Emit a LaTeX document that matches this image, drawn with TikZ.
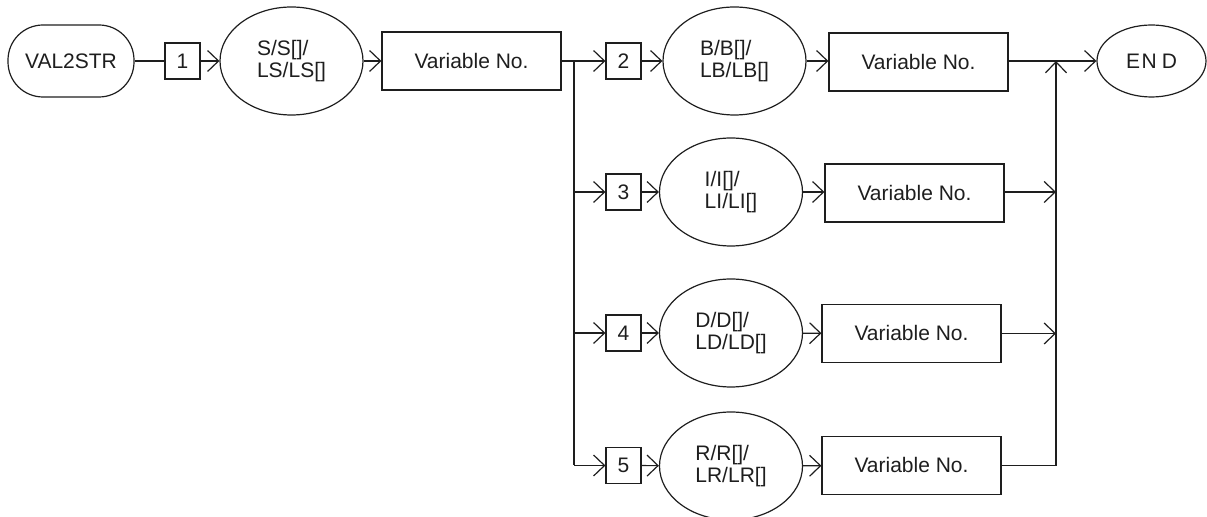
\documentclass[tikz,border=0pt]{standalone}
\usepackage{fontspec}
\setmainfont{Liberation Sans}
\usepackage{tikz}
\usetikzlibrary{shapes.geometric, arrows.meta, positioning, calc}
\definecolor{mydark}{RGB}{30,30,30}
\tikzset{
  startnode/.style={rectangle, draw=mydark, rounded corners=17.5pt,
    minimum width=63pt, minimum height=36pt, inner sep=0pt,
    font=\fontsize{10.5}{11.2}\selectfont, line width=0.6pt},
  numbox/.style={rectangle, draw=mydark,
    minimum width=17.5pt, minimum height=18pt, inner sep=0pt,
    font=\fontsize{10.5}{11.2}\selectfont, line width=0.6pt},
  typenode/.style={ellipse, draw=mydark, align=left,
    minimum width=71.5pt, minimum height=54pt, inner sep=0pt,
    font=\fontsize{10.5}{11.2}\selectfont, line width=0.6pt},
  varbox/.style={rectangle, draw=mydark,
    minimum width=89.5pt, minimum height=29pt, inner sep=0pt,
    font=\fontsize{10.5}{11.2}\selectfont, line width=0.6pt},
  endnode/.style={ellipse, draw=mydark,
    minimum width=54.5pt, minimum height=36pt, inner sep=0pt,
    font=\fontsize{10.5}{11.2}\selectfont, line width=0.6pt},
  arrow/.style={-{Straight Barb[length=5.5pt,width=10.5pt]}, line width=0.6pt, color=mydark},
  line/.style={line width=0.6pt, color=mydark}
}
\begin{document}
\begin{tikzpicture}[x=0.5pt, y=-0.5pt, text=mydark]
  \useasboundingbox (0,0) rectangle (1207,517);

  % Row 1
  \node[startnode] (start) at (71,61) {VAL2STR};
  \node[numbox] (num1) at (182.5,61) {1};
  \node[typenode] (type1) at (291.5,61) {S/S[]/\\LS/LS[]};
  \node[varbox] (var1) at (471.5,61) {Variable No.};
  \coordinate (split) at (574,61);
  \node[numbox] (num2) at (623.5,61) {2};
  \node[typenode] (type2) at (734.5,61) {B/B[]/\\LB/LB[]};
  \node[varbox] (var2) at (918.5,62) {Variable No.};
  \coordinate (join) at (1056,61);
  \node[endnode] (end) at (1151.5,61) {E\kern0.8ptN\kern2.5ptD};

  % Row 2
  \node[numbox] (num3) at (623.5,192) {3};
  \node[typenode] (type3) at (731,192) {I/I[]/\\LI/LI[]};
  \node[varbox] (var3) at (914.5,193) {Variable No.};

  % Row 3
  \node[numbox] (num4) at (623.5,333) {4};
  \node[typenode] (type4) at (731,333) {D/D[]/\\LD/LD[]};
  \node[varbox] (var4) at (911.5,333.5) {Variable No.};

  % Row 4
  \node[numbox] (num5) at (623.5,465.5) {5};
  \node[typenode] (type5) at (731,466) {R/R[]/\\LR/LR[]};
  \node[varbox] (var5) at (911.5,465.5) {Variable No.};

  % Connectors, first row
  \draw[line] (start) -- (num1);
  \draw[arrow] (num1) -- (type1);
  \draw[arrow] (type1) -- (var1);
  \draw[line] (var1.east) -- (split);
  \draw[arrow] (split) -- (num2);
  \draw[arrow] (num2) -- (type2);
  \draw[arrow] (type2) -- (var2.west |- type2);
  \draw[arrow] (var2.east |- join) -- (end);

  % Branches
  \draw[line] (split) -- (split |- num5);
  \draw[arrow] (split |- num3) -- (num3);
  \draw[arrow] (split |- num4) -- (num4);
  \draw[arrow] (split |- num5) -- (num5);
  \draw[arrow] (num3) -- (type3);
  \draw[arrow] (num4) -- (type4);
  \draw[arrow] (num5) -- (type5);
  \draw[arrow] (type3) -- (var3.west |- type3);
  \draw[arrow] (type4) -- (var4);
  \draw[arrow] (type5) -- (var5);

  % Merge
  \draw[arrow] (var3.east |- type3) -- (join |- type3);
  \draw[arrow] (var4.east) -- (join |- var4);
  \draw[arrow] (var5.east) -| (join);
\end{tikzpicture}
\end{document}
